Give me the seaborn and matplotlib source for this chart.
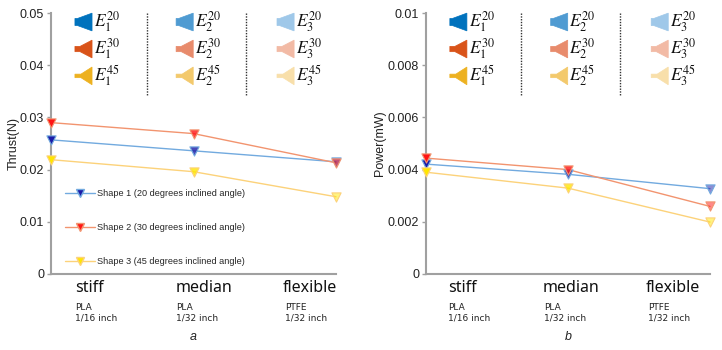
import matplotlib
matplotlib.use("Agg")
import matplotlib.pyplot as plt
from matplotlib.patches import Polygon
from matplotlib.lines import Line2D
import seaborn as sns
import pandas as pd
import numpy as np

# ---------------- data ----------------
categories = ["stiff", "median", "flexible"]
materials = ["PLA\n1/16 inch", "PLA\n1/32 inch", "PTFE\n1/32 inch"]
shape_names = ["Shape 1 (20 degrees inclined angle)",
               "Shape 2 (30 degrees inclined angle)",
               "Shape 3 (45 degrees inclined angle)"]
thrust_s1 = [0.0257, 0.0236, 0.0215]
thrust_s2 = [0.0290, 0.0269, 0.0213]
thrust_s3 = [0.0219, 0.0196, 0.0148]
power_s1 = [0.00421, 0.00382, 0.00327]
power_s2 = [0.00444, 0.00400, 0.00259]
power_s3 = [0.00390, 0.00329, 0.00199]
thrust_ticks = [0, 0.01, 0.02, 0.03, 0.04, 0.05]
power_ticks = [0, 0.002, 0.004, 0.006, 0.008, 0.01]
angles = ["20", "30", "45"]
units = ["1", "2", "3"]

# ---------------- styles ----------------
sns.set_theme(style="white")
plt.rcParams["font.family"] = ["Liberation Sans", "DejaVu Sans"]
plt.rcParams["mathtext.fontset"] = "stix"

line_colors = ["#72aadf", "#f2946f", "#fcd27a"]
marker_faces = ["#1c1ca8", "#ff1414", "#ffe600"]
marker_alpha = [1.0, 0.8, 0.5]
icon_colors = {
    "20": ["#0072BD", "#4f9bd2", "#9fc8e9"],
    "30": ["#D95319", "#e88b6c", "#f2baa5"],
    "45": ["#EDB120", "#f3c96c", "#f8dfaa"],
}
icon_shape = {"20": (0.15, 0.40), "30": (0.30, 0.30), "45": (0.35, 0.20)}
grey = "#a0a0a0"

fig = plt.figure(figsize=(7.22, 3.5), dpi=100)
axL = fig.add_axes([51 / 722, 1 - 274 / 350, 285 / 722, 261 / 350])
axR = fig.add_axes([426 / 722, 1 - 274 / 350, 284 / 722, 261 / 350])


def draw_panel(ax, series, ticks, ylabel, ylab_x, caption, label_x, sub_x):
    rows = []
    for name, vals in zip(shape_names, series):
        for i, v in enumerate(vals):
            rows.append({"pos": i, "value": v, "shape": name})
    df = pd.DataFrame(rows)
    sns.lineplot(data=df, x="pos", y="value", hue="shape",
                 palette=dict(zip(shape_names, line_colors)),
                 linewidth=1.0, legend=False, ax=ax, clip_on=False, zorder=3)
    for k, vals in enumerate(series):
        for i, v in enumerate(vals):
            face = matplotlib.colors.to_rgba(marker_faces[k], marker_alpha[i])
            ax.scatter([i], [v], marker="v", s=44, facecolor=face,
                       edgecolor=line_colors[k], linewidth=0.8,
                       zorder=5, clip_on=False)

    ax.set_xlim(0, 2)
    ax.set_ylim(ticks[0], ticks[-1])
    ax.set_yticks(ticks)
    ax.set_yticklabels([f"{t:g}" for t in ticks], fontsize=9, color="#222222")
    ax.set_xticks([])
    ax.set_xlabel("")
    ax.set_ylabel(ylabel, fontsize=9, color="#222222")
    ax.yaxis.set_label_coords(ylab_x, 0.5)
    for s in ["top", "right"]:
        ax.spines[s].set_visible(False)
    for s in ["left", "bottom"]:
        ax.spines[s].set_color(grey)
        ax.spines[s].set_linewidth(1.5)
    ax.tick_params(axis="y", direction="out", length=3, width=1,
                   color=grey, pad=2, left=True)

    # category labels
    for c, m, lx, sx in zip(categories, materials, label_x, sub_x):
        ax.text(lx, -0.054, c, transform=ax.transAxes, fontsize=11.5,
                family="Noto Sans", ha="left", va="center", color="#111111")
        ax.text(sx, -0.11, m, transform=ax.transAxes, fontsize=6.5,
                family="DejaVu Sans", ha="left", va="top",
                color="#222222", linespacing=1.2)
    ax.text(0.5, -0.241, caption, transform=ax.transAxes, fontsize=9,
            style="italic", ha="center", va="center", color="#222222")

    # speaker icon legend
    col_x = [0.084, 0.439, 0.793]
    row_y = [0.9655, 0.862, 0.759]
    w, h = 0.06, 0.068
    for ci, u in enumerate(units):
        for ri, a in enumerate(angles):
            x0, yc = col_x[ci], row_y[ri]
            rw, rh = icon_shape[a]
            pts = [(x0, yc - rh * h / 2), (x0 + rw * w, yc - rh * h / 2),
                   (x0 + w, yc - h / 2), (x0 + w, yc + h / 2),
                   (x0 + rw * w, yc + rh * h / 2), (x0, yc + rh * h / 2)]
            ax.add_patch(Polygon(pts, closed=True, transform=ax.transAxes,
                                 facecolor=icon_colors[a][ci],
                                 edgecolor=icon_colors[a][ci], lw=0.5,
                                 clip_on=False))
            ax.text(x0 + w + 0.006, yc, rf"$E_{{{u}}}^{{{a}}}$",
                    transform=ax.transAxes, fontsize=12.5, ha="left",
                    va="center", color="#111111")
    for dx in [0.336, 0.683]:
        ax.plot([dx, dx], [1.0, 0.686], transform=ax.transAxes,
                color="#333333", lw=1.0, ls=(0, (1, 1)), clip_on=False)


draw_panel(axL, [thrust_s1, thrust_s2, thrust_s3], thrust_ticks, "Thrust(N)",
           -0.109, "a", [0.084, 0.439, 0.814], [0.084, 0.439, 0.82])
draw_panel(axR, [power_s1, power_s2, power_s3], power_ticks, "Power(mW)",
           -0.14, "b", [0.077, 0.412, 0.775], [0.077, 0.415, 0.782])

handles = [Line2D([0], [0], color=line_colors[k], lw=1.0, marker="v",
                  markersize=6, markerfacecolor=marker_faces[k],
                  markeredgecolor=line_colors[k]) for k in range(3)]
axL.legend(handles, shape_names, loc="upper left",
           bbox_to_anchor=(0.035, 0.34), frameon=False, fontsize=6.6,
           handlelength=3.3, handletextpad=0.2, labelspacing=2.75,
           borderaxespad=0)

fig.savefig("out.png", dpi=100)
